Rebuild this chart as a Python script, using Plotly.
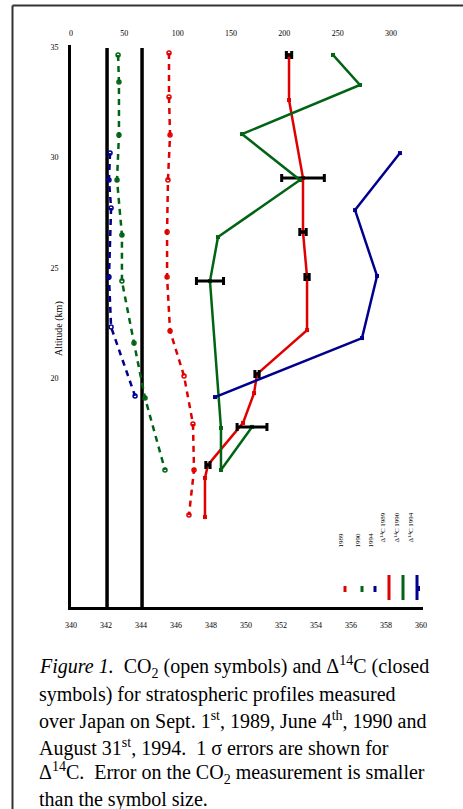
import plotly.graph_objects as go

# ---------------- data ----------------
alt_ticks = [20, 25, 30, 35]
co2_ticks = [340, 342, 344, 346, 348, 350, 352, 354, 356, 358, 360]
d14c_ticks = [0, 50, 100, 150, 200, 250, 300]

# tropospheric reference lines (CO2 axis)
ref_co2 = [342.06, 344.06]
ref_alt = [9.66, 34.95]

# CO2 profiles (open symbols)
co2_1989 = [345.60, 345.60, 345.66, 345.54, 345.49, 345.49, 345.66, 346.46, 346.97, 347.03, 346.74]
alt_co2_1989 = [34.73, 32.74, 31.02, 28.98, 26.63, 24.59, 22.15, 20.11, 17.94, 15.86, 13.82]

co2_1990 = [342.69, 342.74, 342.74, 342.63, 342.91, 342.91, 343.60, 344.23, 345.37]
alt_co2_1990 = [34.64, 33.42, 31.02, 28.98, 26.49, 24.41, 21.61, 19.12, 15.86]

co2_1994 = [342.23, 342.17, 342.29, 342.17, 342.29, 343.66]
alt_co2_1994 = [30.20, 28.98, 27.71, 24.59, 22.33, 19.21]

# D14C profiles (closed symbols)
d14c_1989 = [204.4, 204.4, 217.5, 217.5, 221.3, 221.3, 174.4, 171.6, 161.3, 128.4, 125.6, 125.6]
alt_d14c_1989 = [34.64, 32.60, 29.07, 26.63, 24.59, 22.19, 20.20, 19.34, 17.99, 16.09, 15.50, 13.73]
err_d14c_1989 = [2.5, 0, 20, 3, 2, 0, 2, 0, 0, 2, 0, 0]

d14c_1990 = [245.6, 270.9, 160.3, 214.7, 137.8, 130.3, 140.6, 140.6, 169.7]
alt_d14c_1990 = [34.64, 33.28, 31.06, 28.98, 26.40, 24.41, 17.76, 15.86, 17.81]
err_d14c_1990 = [0, 0, 0, 0, 0, 12.7, 0, 0, 14]

d14c_1994 = [308.4, 266.3, 286.9, 272.8, 135.0]
alt_d14c_1994 = [30.20, 27.62, 24.64, 21.83, 19.16]
err_d14c_1994 = [0, 0, 0, 0, 0]

years = ["1989", "1990", "1994"]
colors = ["#E00000", "#006414", "#00008C"]

# ---------------- figure ----------------
W, H = 463, 809
L, R, T, B = 71, 40, 45, 202
pw, ph = W - L - R, H - T - B


def px(x):
    return (x - L) / pw


def py(y):
    return (H - B - y) / ph


fig = go.Figure()

for xv in ref_co2:
    fig.add_trace(go.Scatter(x=[xv, xv], y=ref_alt, mode="lines",
                             line=dict(color="black", width=3.5),
                             showlegend=False, hoverinfo="skip"))

co2_sets = [(co2_1989, alt_co2_1989), (co2_1990, alt_co2_1990), (co2_1994, alt_co2_1994)]
for (xs, ys), c, yr in zip(co2_sets, colors, years):
    fig.add_trace(go.Scatter(x=xs, y=ys, mode="lines+markers", name="CO2 " + yr,
                             line=dict(color=c, width=2.5, dash="6px,5px"),
                             marker=dict(symbol="circle-open", size=4, color=c, line=dict(width=1.5)),
                             showlegend=False))

d14_sets = [(d14c_1989, alt_d14c_1989, err_d14c_1989),
            (d14c_1990, alt_d14c_1990, err_d14c_1990),
            (d14c_1994, alt_d14c_1994, err_d14c_1994)]
for (xs, ys, es), c, yr in zip(d14_sets, colors, years):
    fig.add_trace(go.Scatter(x=xs, y=ys, xaxis="x2", mode="lines+markers", name="D14C " + yr,
                             line=dict(color=c, width=2.5),
                             marker=dict(symbol="square", size=4, color=c),
                             showlegend=False))
    ex = [x for x, e in zip(xs, es) if e > 0]
    ey = [y for y, e in zip(ys, es) if e > 0]
    ee = [e for e in es if e > 0]
    if ee:
        fig.add_trace(go.Scatter(x=ex, y=ey, xaxis="x2", mode="markers",
                                 marker=dict(size=1, color="black", opacity=0),
                                 error_x=dict(type="data", array=ee, color="black",
                                              thickness=3, width=4),
                                 showlegend=False, hoverinfo="skip"))

tickfont = dict(family="Liberation Serif", size=8, color="#000000")
fig.update_layout(
    width=W, height=H,
    margin=dict(l=L, r=R, t=T, b=B, pad=0),
    paper_bgcolor="white", plot_bgcolor="white",
    showlegend=False,
    font=dict(color="#000000"),
    xaxis=dict(range=[340, 340 + pw / 17.5], tickvals=co2_ticks,
               ticktext=[str(v) for v in co2_ticks],
               showgrid=False, zeroline=False, showline=True, linecolor="black",
               linewidth=3, ticks="", tickfont=tickfont, ticklabelstandoff=8),
    xaxis2=dict(range=[0, pw * 0.9375], overlaying="x", side="top", anchor="y",
                tickvals=d14c_ticks, showgrid=False, zeroline=False, showline=False,
                ticks="", tickfont=tickfont, ticklabelstandoff=6),
    yaxis=dict(range=[35 - (H - B - 47) / 22.1, 35 + 2 / 22.1], tickvals=alt_ticks,
               showgrid=False, zeroline=False, showline=True, linecolor="black",
               linewidth=3, ticks="", tickfont=tickfont, ticklabelstandoff=8),
)

shapes = []
# page frame
shapes.append(dict(type="line", xref="paper", yref="paper", x0=px(12.5), x1=px(12.5),
                   y0=py(5.5), y1=py(812), line=dict(color="#333333", width=2)))
shapes.append(dict(type="line", xref="paper", yref="paper", x0=px(12.5), x1=px(466),
                   y0=py(5.5), y1=py(5.5), line=dict(color="#333333", width=2)))

# manual legend (vertical entries)
leg_short_x = [345, 362, 375]
leg_long_x = [389, 403, 417]
for xx, c in zip(leg_short_x, colors):
    shapes.append(dict(type="line", xref="paper", yref="paper", x0=px(xx), x1=px(xx),
                       y0=py(586), y1=py(592), line=dict(color=c, width=3)))
for xx, c in zip(leg_long_x, colors):
    shapes.append(dict(type="line", xref="paper", yref="paper", x0=px(xx), x1=px(xx),
                       y0=py(575), y1=py(600), line=dict(color=c, width=3)))
shapes.append(dict(type="rect", xref="paper", yref="paper", x0=px(416), x1=px(420),
                   y0=py(591), y1=py(586), line=dict(width=0), fillcolor=colors[2]))
fig.update_layout(shapes=shapes)

ann = []
legfont = dict(family="Liberation Serif", size=7, color="black")
for xx, yr in zip(leg_short_x, years):
    ann.append(dict(x=px(xx + 1), y=py(550), xref="paper", yref="paper", text=yr,
                    textangle=-90, showarrow=False, font=legfont))
for xx, yr in zip(leg_long_x, years):
    ann.append(dict(x=px(xx), y=py(545), xref="paper", yref="paper",
                    text="Δ<sup>14</sup>C " + yr,
                    textangle=-90, showarrow=False, font=legfont))

# y-axis title
ann.append(dict(x=px(51), y=py(329), xref="paper", yref="paper", text="Altitude (km)",
                textangle=-90, showarrow=False,
                font=dict(family="Liberation Serif", size=10, color="black")))

caption = [
    "<i>Figure 1.</i>  CO<sub>2</sub> (open symbols) and Δ<sup>14</sup>C (closed",
    "symbols) for stratospheric profiles measured",
    "over Japan on Sept. 1<sup>st</sup>, 1989, June 4<sup>th</sup>, 1990 and",
    "August 31<sup>st</sup>, 1994.  1 σ errors are shown for",
    "Δ<sup>14</sup>C.  Error on the CO<sub>2</sub> measurement is smaller",
    "than the symbol size.",
]
cap_y = [667, 694, 720, 747, 773, 799]
for t, yy in zip(caption, cap_y):
    ann.append(dict(x=px(37), y=py(yy), xref="paper", yref="paper", text=t,
                    xanchor="left", yanchor="middle", showarrow=False, align="left",
                    font=dict(family="Liberation Serif", size=20, color="black")))
fig.update_layout(annotations=ann)

fig.write_html("out.html")
